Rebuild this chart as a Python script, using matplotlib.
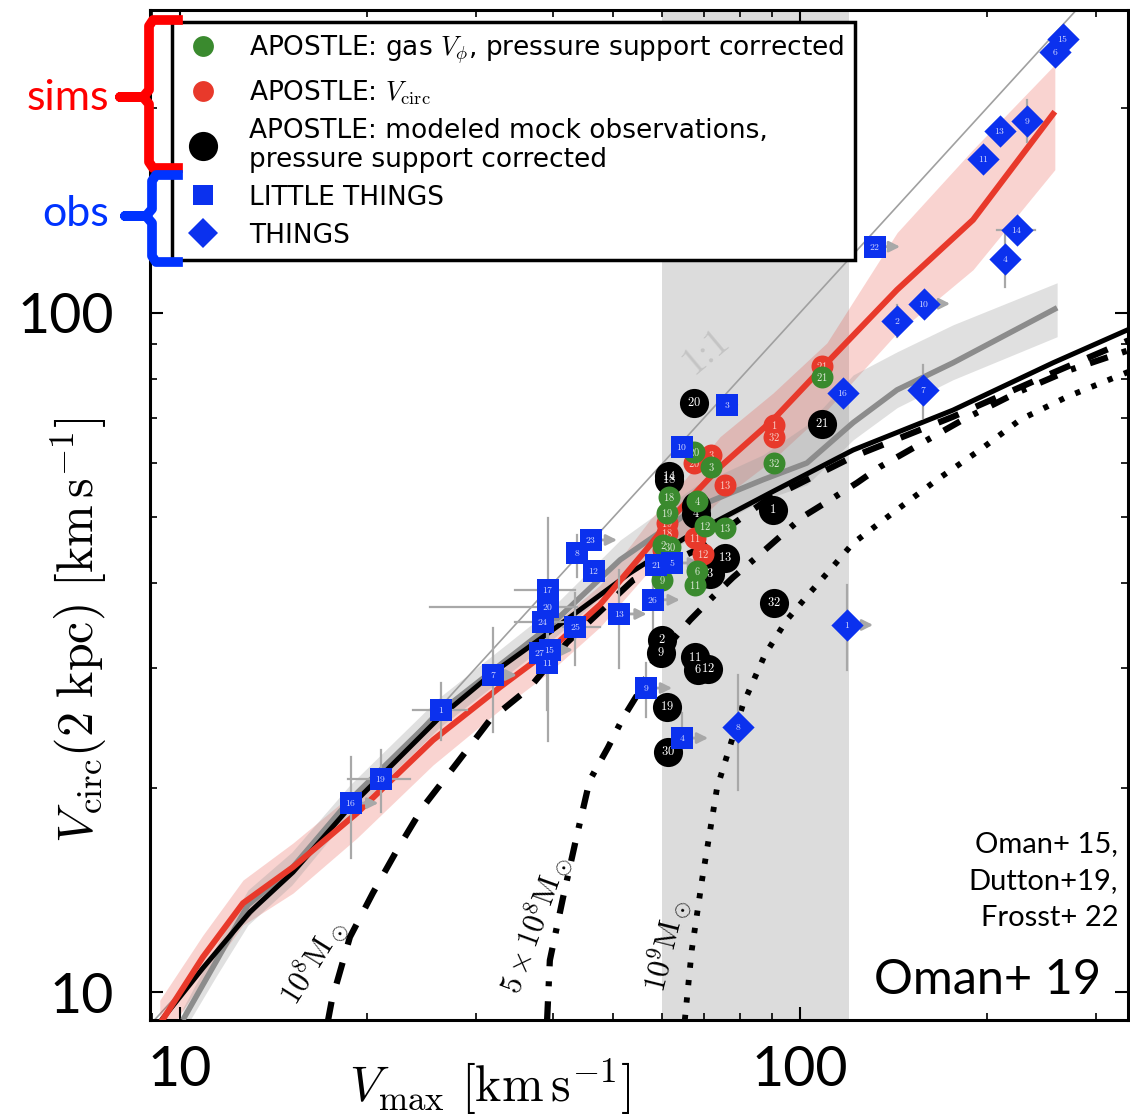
import numpy as np
import matplotlib
matplotlib.use("Agg")
import matplotlib.pyplot as plt
from matplotlib.lines import Line2D
from matplotlib.ticker import NullFormatter

plt.rcParams["mathtext.fontset"] = "cm"
plt.rcParams["font.family"] = "DejaVu Sans"

nan = np.nan

# ---- model curves: Vmax vs Vcirc(2 kpc), km/s ----
nfw_vmax = [9.28, 10.89, 12.97, 15.22, 18.80, 26.27, 31.97, 39.5, 53.2, 65.7, 89.5, 121.8, 176.5, 255.9, 340.4]
nfw_vc = [9.03, 10.85, 13.12, 15.02, 18.73, 25.41, 29.5, 33.9, 41.4, 46.8, 54.3, 62.8, 71.9, 84.4, 94.7]

core1e8_vmax = [17.3, 17.58, 18.80, 20.47, 22.39, 24.66, 27.98, 31.62, 36.7, 42.1, 53.8, 68.2, 88.3, 121.8, 176.5, 255.9, 338]
core1e8_vc = [9.0, 9.73, 12.05, 13.99, 16.18, 18.73, 21.74, 25.16, 28.1, 32.7, 40.4, 44.8, 53.0, 61.4, 70.3, 81.6, 91.0]

core5e8_vmax = [39.1, 39.5, 41.5, 43.6, 45.8, 49.0, 51.8, 55.2, 57.9, 66.5, 72.4, 78.0, 85.2, 92.8, 101.1, 111.7, 123.6, 134.5, 183.2, 223.9, 272.6, 338]
core5e8_vc = [9.10, 11.14, 13.8, 16.9, 20.5, 22.9, 25.3, 27.8, 30.5, 35.3, 38.2, 40.8, 43.7, 46.8, 50.1, 53.0, 56.2, 59.3, 69.6, 76.3, 82.4, 88.0]

core1e9_vmax = [65.2, 66.9, 69.5, 73.5, 80.9, 87.8, 95.2, 103.7, 111.7, 121.8, 143.4, 166.4, 195.0, 226.5, 269.5, 338]
core1e9_vc = [9.10, 11.53, 14.62, 20.0, 26.5, 31.4, 35.3, 38.7, 41.8, 45.8, 51.3, 56.8, 62.8, 69.6, 75.2, 81.8]

# APOSTLE gas (grey) median + scatter
gas_vmax = [10.11, 11.47, 12.87, 15.16, 18.80, 26.27, 39.5, 51.3, 68.2, 87.2, 102.6, 121.8, 143.4, 176.5, 259.8]
gas_vc = [9.10, 11.14, 13.43, 15.23, 19.18, 25.85, 34.6, 43.3, 51.8, 56.8, 60.1, 68.9, 77.0, 84.4, 101.7]
gas_hi = [9.47, 11.73, 14.13, 16.08, 20.18, 27.20, 36.52, 46.3, 55.8, 61.8, 68.4, 81.0, 87.6, 96.0, 110.7]
gas_lo = [8.73, 10.59, 12.55, 14.38, 18.23, 24.56, 32.79, 40.4, 47.1, 53.0, 55.8, 65.0, 72.5, 79.7, 92.2]

# APOSTLE Vcirc (red) median + scatter
circ_vmax = [9.28, 10.89, 12.64, 15.22, 19.30, 25.6, 32.8, 39.5, 47.6, 57.3, 61.7, 74.3, 90.5, 110.5, 143.4, 190.1, 257.6]
circ_vc = [8.97, 11.26, 13.52, 15.28, 18.35, 23.5, 28.1, 31.89, 37.2, 45.5, 49.6, 59.3, 69.6, 84.4, 108.1, 137.0, 197.7]
circ_hi = [9.73, 12.13, 14.62, 16.58, 19.84, 25.41, 30.31, 34.36, 39.75, 49.6, 53.4, 65.7, 76.2, 90.3, 131.2, 173.9, 231.9]
circ_lo = [8.36, 10.41, 12.55, 13.99, 16.86, 21.6, 26.02, 29.6, 34.48, 41.83, 45.1, 53.0, 60.8, 71.9, 93.4, 115.7, 162.4]

one_to_one = [5, 500]
band_lo, band_hi = 60, 120

# ---- APOSTLE galaxies ----
green_lab = ["21", "20", "3", "32", "18", "19", "4", "12", "13", "2", "30", "6", "9", "11"]
green_x = [108.5, 67.5, 71.9, 90.7, 61.5, 61.0, 68.3, 70.3, 75.7, 60.1, 61.7, 68.3, 59.9, 67.7]
green_y = [80.5, 62.4, 59.3, 60.1, 53.6, 50.7, 52.9, 48.56, 48.2, 45.5, 45.2, 41.7, 40.4, 39.75]

red_lab = ["21", "1", "32", "3", "20", "13", "11", "12", "19", "18", "2"]
red_x = [108.5, 90.7, 90.7, 71.9, 67.5, 75.7, 67.7, 69.8, 61.0, 61.0, 60.1]
red_y = [83.5, 68.4, 65.7, 61.8, 60.1, 55.8, 46.6, 44.2, 49.06, 47.4, 44.8]

mock_lab = ["20", "21", "18", "14", "4", "4", "1", "13", "3", "32", "2", "9", "11", "6", "12", "19", "30"]
mock_x = [67.5, 108.5, 61.5, 61.5, 68.0, 68.0, 90.4, 75.7, 71.6, 90.7, 59.9, 59.7, 67.7, 68.5, 71.1, 61.0, 61.3]
mock_y = [73.7, 68.6, 56.8, 57.5, 52.0, 50.6, 51.3, 43.57, 41.27, 37.4, 33.0, 31.57, 31.14, 29.8, 29.9, 26.3, 22.57]

# ---- LITTLE THINGS ----
lt_lab = ["16", "19", "1", "7", "17", "20", "24", "8", "23", "12", "25", "27", "15", "11",
          "13", "26", "9", "4", "5", "21", "3", "10", "22"]
lt_x = [18.87, 21.10, 26.36, 31.98, 39.22, 39.22, 38.5, 43.7, 46.0, 46.5, 43.4, 38.1, 39.5, 39.1,
        51.1, 57.9, 56.4, 64.5, 62.2, 58.6, 76.2, 64.5, 132.1]
lt_y = [18.98, 20.59, 26.02, 29.30, 39.08, 36.9, 35.06, 44.3, 46.3, 41.7, 34.48, 31.6, 31.9, 30.51,
        36.03, 37.8, 28.03, 23.66, 42.83, 42.54, 73.2, 63.5, 125.1]
lt_xlo = [nan, 18.66, 23.75, nan, 34.7, 25.3, 34.7, nan, nan, nan, 41.5, nan, nan, nan,
          nan, nan, nan, nan, nan, nan, nan, nan, nan]
lt_xhi = [nan, 23.5, 29.0, nan, 43.4, 43.7, 42.6, nan, nan, nan, 47.6, nan, nan, nan,
          nan, nan, nan, nan, nan, nan, nan, nan, nan]
lt_ylo = [15.75, 18.41, 23.5, 24.15, nan, 23.4, nan, 40.83, nan, nan, 30.31, nan, nan, 26.0,
          30.0, 33.7, 25.41, 23.0, nan, nan, nan, nan, nan]
lt_yhi = [22.19, 22.72, 28.51, 34.36, nan, 49.9, nan, 47.1, nan, nan, 38.7, nan, nan, 34.5,
          41.83, 43.28, 30.51, 25.76, nan, nan, nan, nan, nan]
lt_arrow = [20.9, nan, nan, 34.96, nan, nan, nan, nan, 50.7, nan, nan, nan, 43.05, nan,
            56.6, 64.0, 62.2, 71.1, 69.0, nan, 80.0, nan, 145.0]

# ---- THINGS ----
th_lab = ["15", "6", "9", "13", "11", "14", "4", "10", "2", "16", "7", "1", "8"]
th_x = [265.6, 257.8, 232.3, 210.2, 197.3, 223.9, 214.1, 158.5, 143.4, 117.3, 157.9, 119.1, 79.4]
th_y = [253.2, 242.3, 191.8, 185.4, 168.6, 132.5, 120.1, 103.1, 97.3, 76.2, 77.0, 34.71, 24.56]
th_xlo = [nan, nan, nan, nan, nan, 207.9, nan, nan, nan, nan, nan, nan, nan]
th_xhi = [nan, nan, nan, nan, nan, 239.3, nan, nan, nan, nan, nan, nan, nan]
th_ylo = [nan, nan, 178.6, nan, nan, nan, 109.2, nan, 92.2, nan, 70.0, 29.8, 19.84]
th_yhi = [nan, nan, 205.9, nan, nan, nan, 131.2, nan, 102.7, nan, 83.8, 39.75, 29.30]
th_arrow = [nan, nan, nan, nan, nan, nan, nan, 174.6, nan, nan, nan, 131.2, nan]

GREEN = "#3a8a2e"
RED = "#e8392b"
BLUE = "#0b31ee"
ERR = "#a8a8a8"

W, H = 1130, 1120
fig = plt.figure(figsize=(W / 100, H / 100), dpi=100)
ax = fig.add_axes([150 / W, 100 / H, 978 / W, 1010 / H])
ax.set_xscale("log")
ax.set_yscale("log")

ax.axvspan(band_lo, band_hi, color="#dcdcdc", lw=0, zorder=0)
ax.plot(one_to_one, one_to_one, color="#a0a0a0", lw=1.2, zorder=1)

ax.fill_between(circ_vmax, circ_lo, circ_hi, color=RED, alpha=0.22, lw=0, zorder=1.5)
ax.fill_between(gas_vmax, gas_lo, gas_hi, color="#9a9a9a", alpha=0.3, lw=0, zorder=1.6)

ax.plot(core1e8_vmax, core1e8_vc, color="k", lw=4.5, dashes=(3.5, 3), zorder=2.5)
ax.plot(core5e8_vmax, core5e8_vc, color="k", lw=4.5, dashes=(3, 2.4, 0.8, 2.4), zorder=2.5)
ax.plot(core1e9_vmax, core1e9_vc, color="k", lw=4.2, dashes=(0.9, 2.1), zorder=2.5)
ax.plot(gas_vmax, gas_vc, color="#8c8c8c", lw=4, zorder=2.8, solid_capstyle="butt")
ax.plot(nfw_vmax, nfw_vc, color="k", lw=3.6, zorder=3)
ax.plot(circ_vmax, circ_vc, color=RED, lw=4.3, zorder=3.2, solid_capstyle="butt")


def error_bars(xs, ys, xlo, xhi, ylo, yhi, arrows):
    for i in range(len(xs)):
        if not np.isnan(xlo[i]):
            ax.plot([xlo[i], xhi[i]], [ys[i], ys[i]], color=ERR, lw=1.6, zorder=3.6)
        if not np.isnan(ylo[i]):
            ax.plot([xs[i], xs[i]], [ylo[i], yhi[i]], color=ERR, lw=1.6, zorder=3.6)
        if not np.isnan(arrows[i]):
            ax.annotate("", xy=(arrows[i], ys[i]), xytext=(xs[i], ys[i]),
                        arrowprops=dict(arrowstyle="-|>", color=ERR, lw=2,
                                        mutation_scale=16, shrinkA=0, shrinkB=0),
                        zorder=3.7)


def numbered(xs, ys, labels, marker, size, color, fs, tcolor, z):
    ax.scatter(xs, ys, s=size, marker=marker, color=color, linewidths=0, zorder=z)
    for x, y, lab in zip(xs, ys, labels):
        ax.text(x, y, "$%s$" % lab, ha="center", va="center", fontsize=fs,
                color=tcolor, zorder=z + 0.05)


error_bars(lt_x, lt_y, lt_xlo, lt_xhi, lt_ylo, lt_yhi, lt_arrow)
error_bars(th_x, th_y, th_xlo, th_xhi, th_ylo, th_yhi, th_arrow)

numbered(mock_x, mock_y, mock_lab, "o", 440, "k", 9, "white", 5)
numbered(green_x, green_y, green_lab, "o", 250, GREEN, 7.5, "#dde8d8", 5.2)
numbered(red_x, red_y, red_lab, "o", 250, RED, 7.5, "#f6d0c8", 5.1)
numbered(lt_x, lt_y, lt_lab, "s", 240, BLUE, 7, "#d8dcff", 5.4)
numbered(th_x, th_y, th_lab, "D", 270, BLUE, 7, "#d8dcff", 5.4)

ax.set_xlim(8.95, 338)
ax.set_ylim(9.1, 279)

# curve annotations
ax.text(0.5685, 0.662, "1:1", transform=ax.transAxes, rotation=40, fontsize=28,
        family="cmr10", color="#c4c4c4", ha="center", va="center")
ax.text(0.167, 0.058, r"$10^8{\rm M}_\odot$", transform=ax.transAxes, rotation=58,
        fontsize=22, ha="center", va="center")
ax.text(0.394, 0.095, r"$5\times10^8{\rm M}_\odot$", transform=ax.transAxes, rotation=70,
        fontsize=22, ha="center", va="center")
ax.text(0.528, 0.074, r"$10^9{\rm M}_\odot$", transform=ax.transAxes, rotation=76,
        fontsize=22, ha="center", va="center")

ax.text(0.99, 0.1376, "Oman+ 15,\nDutton+19,\nFrosst+ 22", transform=ax.transAxes,
        ha="right", va="center", fontsize=21, family="Lato", linespacing=1.5)
ax.text(0.972, 0.040, "Oman+ 19", transform=ax.transAxes, ha="right", va="center",
        fontsize=35, family="Lato")

# axes styling
for sp in ax.spines.values():
    sp.set_linewidth(2.2)
ax.tick_params(which="both", direction="in", top=True, right=True)
ax.tick_params(which="major", length=9.5, width=1.5, pad=26)
ax.tick_params(which="minor", length=5, width=1.2)
ax.set_xticks([10, 100])
ax.set_yticks([10, 100])
ax.set_xticklabels(["10", "100"], fontsize=40, family="Lato")
ax.set_yticklabels(["10", "100"], fontsize=40, family="Lato")
ax.xaxis.set_minor_formatter(NullFormatter())
ax.yaxis.set_minor_formatter(NullFormatter())
ax.tick_params(axis="x", which="major", pad=18)

ax.set_xlabel(r"$V_{\max}\ [{\rm km\,s^{-1}}]$", fontsize=36)
ax.set_ylabel(r"$V_{\rm circ}(2\ {\rm kpc})\ [{\rm km\,s^{-1}}]$", fontsize=36)
ax.xaxis.set_label_coords(0.3476, -0.036)
ax.yaxis.set_label_coords(-0.042, 0.386)

# legend
handles = [
    Line2D([], [], ls="none", marker="o", ms=15, color=GREEN, mew=0),
    Line2D([], [], ls="none", marker="o", ms=15, color=RED, mew=0),
    Line2D([], [], ls="none", marker="o", ms=21, color="k", mew=0),
    Line2D([], [], ls="none", marker="s", ms=14, color=BLUE, mew=0),
    Line2D([], [], ls="none", marker="D", ms=15, color=BLUE, mew=0),
]
labels = [
    r"APOSTLE: gas $V_\phi$, pressure support corrected",
    r"APOSTLE: $V_{\rm circ}$",
    "APOSTLE: modeled mock observations,\npressure support corrected",
    "LITTLE THINGS",
    "THINGS",
]
leg = ax.legend(handles, labels, loc="upper left", bbox_to_anchor=(0.0225, 0.988),
                fontsize=19, frameon=True, fancybox=False, framealpha=1,
                edgecolor="k", labelspacing=0.45, borderpad=0.42, handlelength=1.5,
                handletextpad=1.0, borderaxespad=0)
leg.get_frame().set_linewidth(2.5)
for t in leg.get_texts():
    t.set_linespacing(1.12)
leg.set_zorder(10)


# sims / obs brackets outside the axes
def fx(px):
    return px / W


def fy(py):
    return 1 - py / H


def bracket(x0, xarm, xnub, ytop, ymid, ybot, color):
    pts = [(xarm, ytop), (x0 + 4, ytop), (x0, ytop + 6), (x0, ymid - 7), (x0 - 6, ymid),
           (xnub, ymid), (x0 - 6, ymid), (x0, ymid + 7), (x0, ybot - 6), (x0 + 4, ybot),
           (xarm, ybot)]
    fig.add_artist(Line2D([fx(p[0]) for p in pts], [fy(p[1]) for p in pts],
                          color=color, lw=7, solid_joinstyle="round",
                          transform=fig.transFigure, zorder=20))


bracket(149, 178, 120, 20, 97, 168, "#ff0000")
bracket(152, 178, 125, 175, 216, 262, "#0033ff")
fig.text(fx(68), fy(98), "sims", color="#ff0000", fontsize=31, family="Lato",
         ha="center", va="center")
fig.text(fx(76), fy(214), "obs", color="#0033ff", fontsize=31, family="Lato",
         ha="center", va="center")

fig.savefig("out.png", dpi=100)
